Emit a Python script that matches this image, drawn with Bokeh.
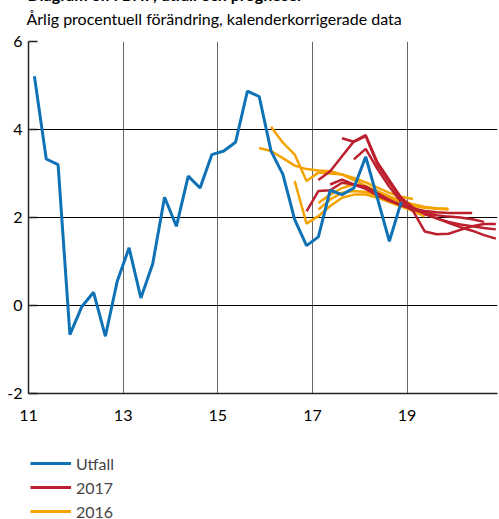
from bokeh.plotting import figure
from bokeh.layouts import column
from bokeh.models import ColumnDataSource, FixedTicker, Title, Legend, LegendItem
from bokeh.embed import file_html
from bokeh.resources import INLINE

# ---------------- data ----------------
title_text = "Diagram 3.7: BNP, utfall och prognoser"
subtitle_text = "Årlig procentuell förändring, kalenderkorrigerade data"

x_ticks = [11, 13, 15, 17, 19]
y_ticks = [-2, 0, 2, 4, 6]
y_tick_labels = ["-2", "0", "2", "4", "6"]

series_names = ["Utfall", "2017", "2016"]

# Outcome (Utfall), quarterly 2011Q1 - 2018Q4
utfall_start = "2011Q1"
utfall = [5.21, 3.33, 3.20, -0.66, -0.03, 0.30, -0.70, 0.55,
          1.31, 0.17, 0.95, 2.46, 1.80, 2.94, 2.67, 3.43,
          3.51, 3.71, 4.87, 4.75, 3.51, 2.98, 1.95, 1.36,
          1.56, 2.62, 2.52, 2.67, 3.38, 2.43, 1.46, 2.35]

# Forecasts made in 2016 (orange)
f2016_a_start = "2016Q1"
f2016_a = [4.06, 3.70, 3.43, 2.83, 3.02, 3.00, 2.98, 2.90, 2.80, 2.68, 2.56, 2.47, 2.42]
f2016_b_start = "2015Q4"
f2016_b = [3.58, 3.51, 3.35, 3.18, 3.10, 3.07, 3.05, 2.98, 2.85, 2.72, 2.60, 2.48, 2.38, 2.30, 2.24, 2.21, 2.20]
f2016_c_start = "2016Q3"
f2016_c = [2.83, 1.86, 2.03, 2.26, 2.45, 2.52, 2.52, 2.45, 2.35, 2.25, 2.15, 2.02]
f2016_d_start = "2017Q1"
f2016_d = [2.33, 2.52, 2.67, 2.75, 2.68, 2.57, 2.45, 2.33, 2.22, 2.13, 2.06]
f2016_e_start = "2017Q1"
f2016_e = [2.18, 2.41, 2.56, 2.60, 2.58, 2.50, 2.40, 2.32, 2.26, 2.22, 2.20, 2.18]

# Forecasts made in 2017 (red)
f2017_a_start = "2016Q4"
f2017_a = [2.14, 2.60, 2.62, 2.79, 2.75, 2.65, 2.50, 2.38, 2.28, 2.20, 2.15, 2.12, 2.10, 2.10, 2.10]
f2017_b_start = "2017Q1"
f2017_b = [2.85, 3.05, 3.39, 3.73, 3.87, 3.25, 2.85, 2.45, 2.22, 2.08, 1.98, 1.90, 1.84, 1.80, 1.76, 1.73]
f2017_c_start = "2017Q3"
f2017_c = [3.80, 3.72, 3.85, 3.20, 2.80, 2.42, 2.22, 2.08, 1.98, 1.88, 1.78, 1.70, 1.60, 1.52]
f2017_d_start = "2017Q4"
f2017_d = [3.32, 3.56, 3.10, 2.70, 2.35, 2.15, 1.68, 1.62, 1.63, 1.72, 1.80, 1.85, 1.85]
f2017_e_start = "2017Q2"
f2017_e = [2.75, 2.86, 2.75, 2.70, 2.55, 2.40, 2.28, 2.18, 2.10, 2.05, 2.02, 2.00, 1.96, 1.90]

# ---------------- helpers ----------------
def qx(start, n):
    y, q = start.split("Q")
    base = int(y) - 2000 + (int(q) - 0.5) / 4.0
    return [base + 0.25 * i for i in range(n)]

BLUE = "#0F72B6"
RED = "#BC1F2E"
ORANGE = "#F5A300"
FONT = "Lato"

p = figure(width=506, height=447, x_range=(11, 20.91), y_range=(-2, 6),
           output_backend="svg", toolbar_location=None,
           min_border_left=36, min_border_right=1,
           min_border_top=59, min_border_bottom=36)
p.outline_line_color = None
p.background_fill_color = "white"
p.border_fill_color = "white"

# axes
p.xaxis.ticker = FixedTicker(ticks=x_ticks)
p.yaxis.ticker = FixedTicker(ticks=y_ticks)
p.yaxis.major_label_overrides = dict(zip(y_ticks, y_tick_labels))
for ax in (p.xaxis[0], p.yaxis[0]):
    ax.major_label_text_font = FONT
    ax.major_label_text_font_size = "16px"
    ax.major_label_text_color = "black"
    ax.minor_tick_line_color = None
    ax.axis_line_color = "#222222"
    ax.axis_line_width = 1.5
p.xaxis.major_tick_in = 0
p.xaxis.major_tick_out = 0
p.xaxis.major_label_standoff = 16
p.yaxis.major_tick_in = 9
p.yaxis.major_tick_out = 0
p.yaxis.major_tick_line_color = "#222222"
p.yaxis.major_tick_line_width = 1.5
p.yaxis.major_label_standoff = 6

p.ygrid.grid_line_color = "black"
p.ygrid.grid_line_width = 1
p.xgrid.grid_line_color = "#666666"
p.xgrid.grid_line_width = 1

# forecasts
o_src = ColumnDataSource(dict(
    xs=[qx(f2016_a_start, len(f2016_a)), qx(f2016_b_start, len(f2016_b)),
        qx(f2016_c_start, len(f2016_c)), qx(f2016_d_start, len(f2016_d)),
        qx(f2016_e_start, len(f2016_e))],
    ys=[f2016_a, f2016_b, f2016_c, f2016_d, f2016_e]))
r_src = ColumnDataSource(dict(
    xs=[qx(f2017_a_start, len(f2017_a)), qx(f2017_b_start, len(f2017_b)),
        qx(f2017_c_start, len(f2017_c)), qx(f2017_d_start, len(f2017_d)),
        qx(f2017_e_start, len(f2017_e))],
    ys=[f2017_a, f2017_b, f2017_c, f2017_d, f2017_e]))

p.multi_line("xs", "ys", source=o_src, line_color=ORANGE, line_width=2.5)
p.multi_line("xs", "ys", source=r_src, line_color=RED, line_width=2.5)
p.line(qx(utfall_start, len(utfall)), utfall, line_color=BLUE, line_width=3)

# titles (subtitle nearest the frame, main title above it)
p.add_layout(Title(text=subtitle_text, align="left", offset=-2, standoff=28,
                   text_font=FONT, text_font_size="16px", text_font_style="normal",
                   text_line_height=0.6, text_color="black"), "above")
p.add_layout(Title(text=title_text, align="left", offset=-1, standoff=-22,
                   text_font=FONT, text_font_size="16px", text_font_style="bold",
                   text_color="black"), "above")

# legend in its own strip below the chart (no axes in this strip)
lg = figure(width=506, height=94, x_range=(0, 1), y_range=(0, 1),
            output_backend="svg", toolbar_location=None,
            x_axis_location=None, y_axis_location=None,
            min_border_left=0, min_border_right=0, min_border_top=20, min_border_bottom=0)
lg.grid.visible = False
lg.outline_line_color = None
lg.background_fill_color = "white"
lg.border_fill_color = "white"
leg_colors = [BLUE, RED, ORANGE]
leg_widths = [3, 3, 3]
items = []
for name, col, w in zip(series_names, leg_colors, leg_widths):
    # legend proxy: a single point, so the line itself draws nothing
    rr = lg.line([-1], [-1], line_color=col, line_width=w)
    items.append(LegendItem(label=name, renderers=[rr]))
legend = Legend(items=items, location="top_left", orientation="vertical",
                label_text_font=FONT, label_text_font_size="16px",
                glyph_width=41, glyph_height=24, label_height=24,
                spacing=0, padding=0, margin=2, label_standoff=5,
                border_line_color=None, background_fill_alpha=0)
lg.add_layout(legend, "center")

layout = column(p, lg, spacing=0)
layout.styles = {"margin-top": "-18px", "margin-left": "-8px"}

open("out.html", "w").write(file_html(layout, INLINE))
